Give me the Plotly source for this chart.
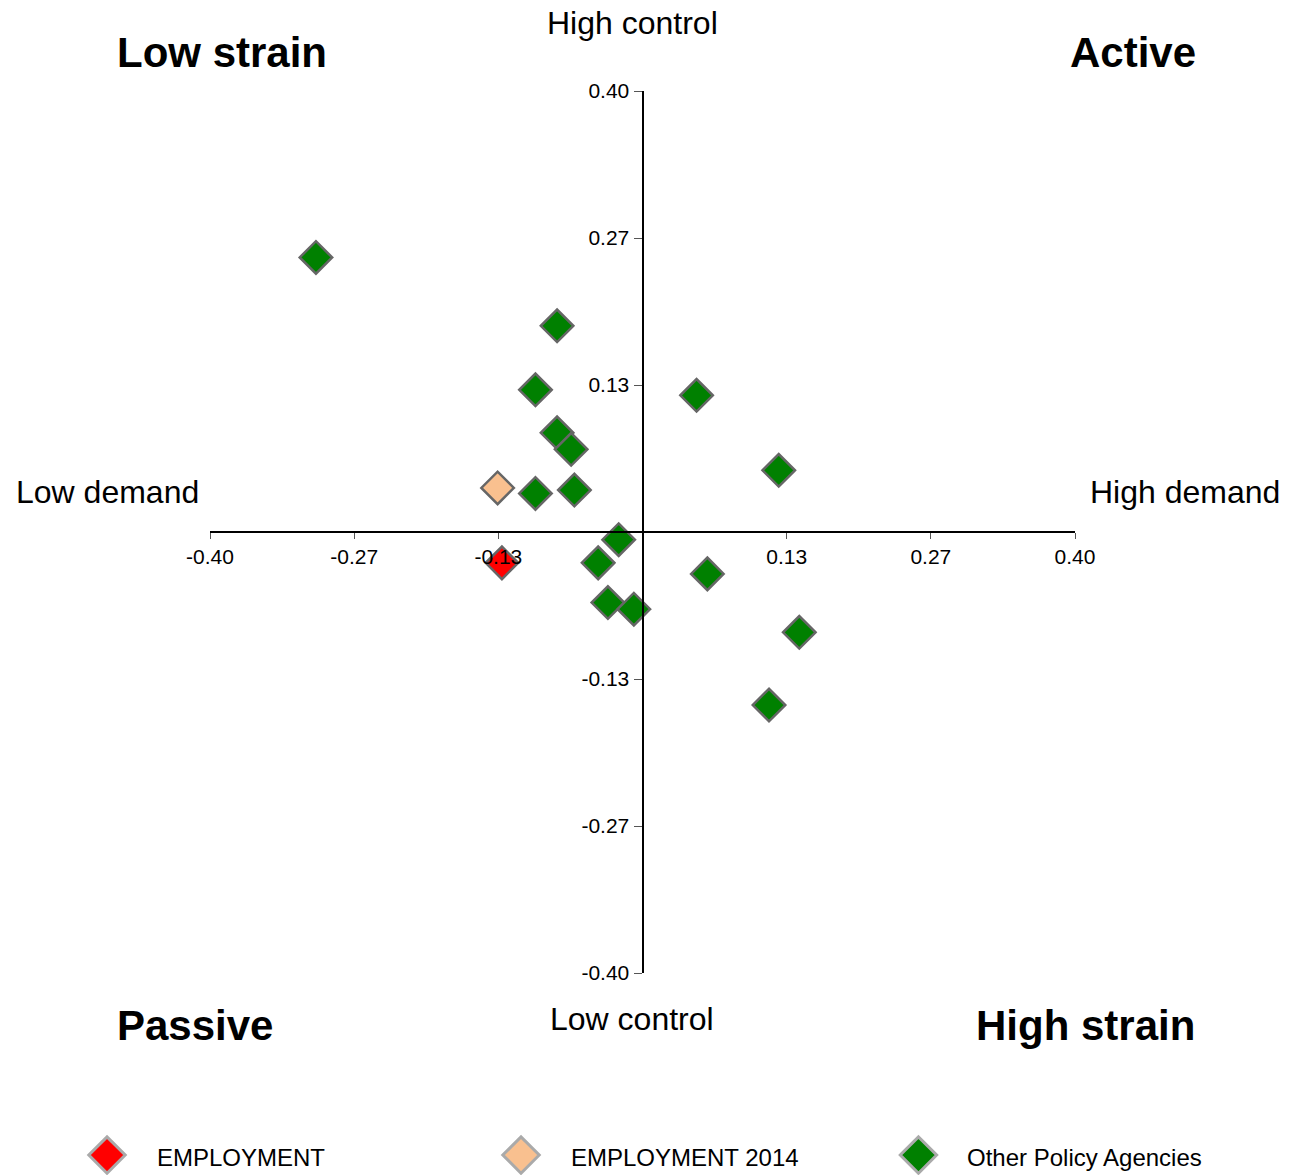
import plotly.graph_objects as go

# ---- data ----
series_names = ["EMPLOYMENT", "EMPLOYMENT 2014", "Other Policy Agencies"]
series_colors = ["#ff0000", "#f9c08f", "#008000"]

emp_x = [-0.130]
emp_y = [-0.028]
emp14_x = [-0.134]
emp14_y = [0.040]
other_x = [-0.302, -0.079, -0.099, 0.050, -0.079, -0.066, 0.126, -0.099, -0.063,
           -0.022, -0.041, 0.060, -0.032, -0.008, 0.145, 0.117]
other_y = [0.249, 0.187, 0.129, 0.124, 0.090, 0.075, 0.056, 0.035, 0.038,
           -0.007, -0.028, -0.038, -0.064, -0.070, -0.091, -0.157]

tick_vals = [-0.4, -0.8 / 3, -0.4 / 3, 0.4 / 3, 0.8 / 3, 0.4]
tick_text = ["-0.40", "-0.27", "-0.13", "0.13", "0.27", "0.40"]
ytick_text = ["-0.40", "-0.27", "-0.13", "0.13", "0.27", "0.40"]

W, H = 1301, 1175
L, R, T, B = 210, 226, 91, 202
font = "Liberation Sans, Arial, sans-serif"

fig = go.Figure()
mk_line = dict(color="#666666", width=2.5)
fig.add_trace(go.Scatter(x=other_x, y=other_y, mode="markers", name=series_names[2],
                         marker=dict(symbol="diamond", size=25, color=series_colors[2], line=mk_line),
                         showlegend=False))
fig.add_trace(go.Scatter(x=emp14_x, y=emp14_y, mode="markers", name=series_names[1],
                         marker=dict(symbol="diamond", size=25, color=series_colors[1], line=mk_line),
                         showlegend=False))
fig.add_trace(go.Scatter(x=emp_x, y=emp_y, mode="markers", name=series_names[0],
                         marker=dict(symbol="diamond", size=25, color=series_colors[0], line=mk_line),
                         showlegend=False))

# manual legend on its own axes
leg_pos = [0.0, 1.0, 1.96]
fig.add_trace(go.Scatter(x=leg_pos, y=[0, 0, 0], mode="markers", xaxis="x2", yaxis="y2",
                         marker=dict(symbol="diamond", size=28, color=series_colors,
                                     line=dict(color="#aaaaaa", width=3)),
                         showlegend=False, hoverinfo="skip", cliponaxis=False))

ypos_zero = 1 - (T + (H - T - B) / 2) / H
xpos_zero = (L + (W - L - R) / 2) / W

fig.update_layout(
    template="none",
    width=W, height=H,
    margin=dict(l=0, r=0, t=0, b=0, autoexpand=False),
    paper_bgcolor="white", plot_bgcolor="white",
    font=dict(family=font, color="black"),
    xaxis=dict(domain=[L / W, 1 - R / W], range=[-0.4, 0.4], anchor="free", position=ypos_zero,
               showgrid=False, zeroline=False, showline=True, linecolor="black", linewidth=2,
               ticks="outside", ticklen=6, tickcolor="#555", tickwidth=1, automargin=False,
               tickvals=tick_vals, ticktext=tick_text, tickfont=dict(size=21, family=font),
               layer="above traces"),
    yaxis=dict(domain=[B / H, 1 - T / H], range=[-0.4, 0.4], anchor="free", position=xpos_zero,
               showgrid=False, zeroline=False, showline=True, linecolor="black", linewidth=2,
               ticks="outside", ticklen=8, tickcolor="#555", tickwidth=1, automargin=False,
               tickvals=tick_vals, ticktext=ytick_text, tickfont=dict(size=21, family=font),
               layer="above traces"),
    xaxis2=dict(domain=[0, 1], range=[-0.2585, 2.884], visible=False, automargin=False),
    yaxis2=dict(domain=[0, 0.034], range=[-1, 1], visible=False, anchor="x2", automargin=False),
    showlegend=False,
)

ann = [
    ("Low strain", 222, 53, 42, True),
    ("Active", 1133, 53, 42, True),
    ("Passive", 195, 1025, 42, True),
    ("High strain", 1085, 1025, 42, True),
    ("High control", 632, 23, 32, False),
    ("Low control", 632, 1019, 32, False),
    ("Low demand", 107, 492, 32, False),
    ("High demand", 1185, 492, 32, False),
]
for text, px, py, sz, bold in ann:
    fig.add_annotation(text=f"<b>{text}</b>" if bold else text, xref="paper", yref="paper",
                       x=px / W, y=1 - py / H, showarrow=False, xanchor="center", yanchor="middle",
                       font=dict(size=sz, family=font, color="black"))

leg_text_x = [155, 569, 965]
for name, px in zip(series_names, leg_text_x):
    fig.add_annotation(text=name, xref="paper", yref="paper", x=px / W, y=1 - 1157 / H,
                       showarrow=False, xanchor="left", yanchor="middle",
                       font=dict(size=24, family=font, color="black"))

fig.write_html("out.html", config={"displayModeBar": False},
               post_script="document.body.style.margin='0';document.body.style.overflow='hidden';")
